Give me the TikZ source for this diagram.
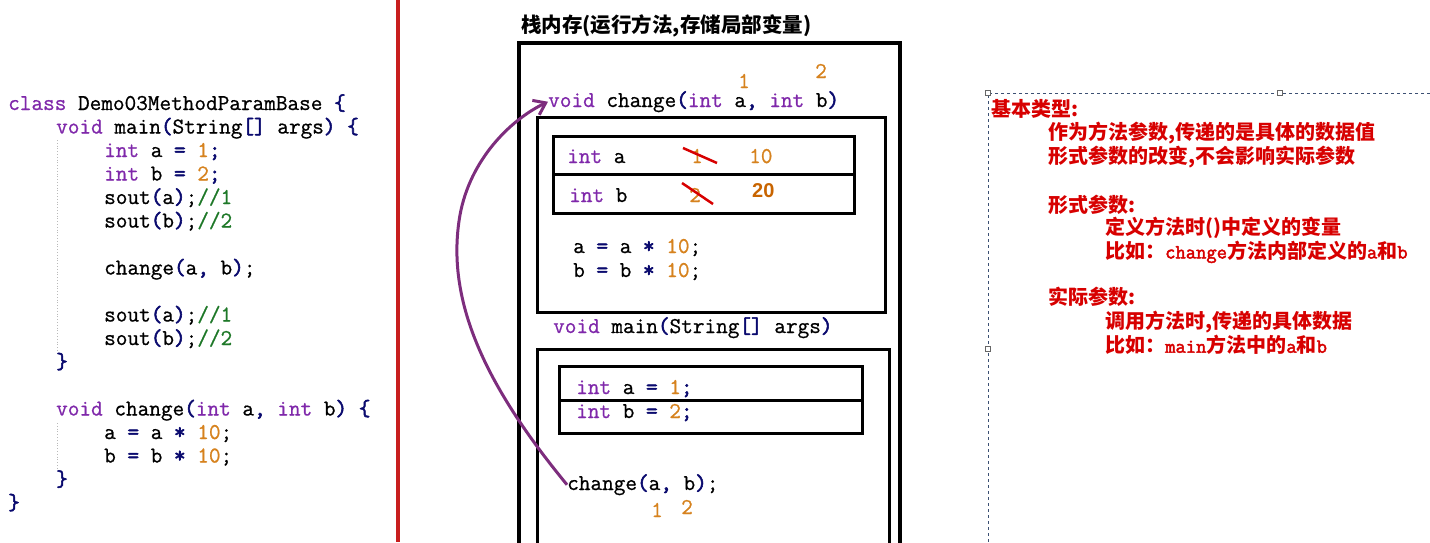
\documentclass[tikz,border=0pt]{standalone}
\usepackage{fontspec}
\usetikzlibrary{arrows.meta}
\newfontfamily\codefont[FakeBold=0.8]{Latin Modern Mono}
\newfontfamily\codebold[FakeBold=2.4]{Latin Modern Mono}
\newfontfamily\cjk{Noto Sans CJK SC}
\newfontfamily\handfont{Liberation Sans}
\definecolor{kwpurple}{RGB}{127,40,170}
\definecolor{numorange}{RGB}{214,130,30}
\definecolor{opnavy}{RGB}{10,10,110}
\definecolor{cmtgreen}{RGB}{30,120,40}
\definecolor{notered}{RGB}{215,0,0}
\definecolor{sepred}{RGB}{200,30,30}
\definecolor{callpurple}{RGB}{125,45,125}
\definecolor{selblue}{RGB}{60,80,115}
\newcommand\kw[1]{\textcolor{kwpurple}{#1}}
\newcommand\nm[1]{\textcolor{numorange}{#1}}
\newcommand\op[1]{\textcolor{opnavy}{\codebold #1}}
\newcommand\cmt[1]{\textcolor{cmtgreen}{#1}}
\newcommand\cd[1]{{\codebold\fontsize{20}{22}\selectfont #1}}
\tikzset{
  code/.style={anchor=base west, inner sep=0pt, font=\codefont\fontsize{22.6}{24}\selectfont},
  note/.style={anchor=west, inner sep=0pt, text=notered, font=\cjk\bfseries\fontsize{20}{22}\selectfont},
  anno/.style={code, text=numorange},
  box/.style={draw, line width=3.5pt},
  frame/.style={draw, line width=3pt},
  strike/.style={draw=notered, line width=2.5pt},
  guide/.style={draw=gray!55, dotted, line width=0.8pt},
  handle/.style={draw=gray!80!black, fill=white, line width=0.8pt}
}
\begin{document}
\begin{tikzpicture}[x=1pt,y=-1pt]
  \useasboundingbox (0,0) rectangle (1430,542);
  \clip (0,0) rectangle (1430,542);

  % source code
  \node[code] (c1) at (8,110) {\kw{class} Demo03MethodParamBase \op{\{}};
  \node[code] (c2) at (56,133.5) {\kw{void} main\op{(}String\op{[]} args\op{)} \op{\{}};
  \node[code] (c3) at (104,157) {\kw{int} a \op{=} \nm{1}\op{;}};
  \node[code] (c4) at (104,180.5) {\kw{int} b \op{=} \nm{2}\op{;}};
  \node[code] (c5) at (104,204) {sout\op{(}a\op{)};\cmt{//1}};
  \node[code] (c6) at (104,227.5) {sout\op{(}b\op{)};\cmt{//2}};
  \node[code] (c7) at (104,274.5) {change\op{(}a\op{,} b\op{)};};
  \node[code] (c8) at (104,321.5) {sout\op{(}a\op{)};\cmt{//1}};
  \node[code] (c9) at (104,345) {sout\op{(}b\op{)};\cmt{//2}};
  \node[code] (c10) at (56,368.5) {\op{\}}};
  \node[code] (c11) at (56,415.5) {\kw{void} change\op{(}\kw{int} a\op{,} \kw{int} b\op{)} \op{\{}};
  \node[code] (c12) at (104,439) {a \op{=} a \op{*} \nm{10};};
  \node[code] (c13) at (104,462.5) {b \op{=} b \op{*} \nm{10};};
  \node[code] (c14) at (56,486) {\op{\}}};
  \node[code] (c15) at (8,509.5) {\op{\}}};
  \draw[guide] (57,140) -- (57,352);
  \draw[guide] (57,423) -- (57,469);

  \draw[sepred, line width=4pt] (398,0) -- (398,542);

  % stack memory
  \node[anchor=west, inner sep=0pt, font=\cjk\bfseries\fontsize{20.5}{22}\selectfont] (t) at (521,26) {栈内存(运行方法,存储局部变量)};
  \draw[box] (519,43) rectangle (900,560);

  \node[code] (sig) at (548,107) {\kw{void} change\op{(}\kw{int} a\op{,} \kw{int} b\op{)}};
  \node[anno] (p1) at (738,88) {1};
  \node[anno] (p2) at (815,78) {2};
  \draw[frame] (537,117) rectangle (885,312);
  \draw[frame] (553,136) rectangle (854,213);
  \draw[frame] (553,174) -- (854,174);
  \node[code] (va) at (567,163) {\kw{int} a};
  \node[anno] (oa) at (691,163) {1};
  \node[anno] (na) at (749,163) {10};
  \draw[strike] (683,148) -- (717,163);
  \node[code] (vb) at (569,202) {\kw{int} b};
  \node[anno] (ob) at (689,202) {2};
  \node[anchor=base west, inner sep=0pt, text={rgb,255:red,200;green,100;blue,0}, font=\handfont\bfseries\fontsize{20}{22}\selectfont] (nb) at (752,197) {20};
  \draw[strike] (682,183) -- (713,204);
  \node[code] (s1) at (573,253) {a \op{=} a \op{*} \nm{10};};
  \node[code] (s2) at (573,277) {b \op{=} b \op{*} \nm{10};};

  \node[code] (msig) at (553,333) {\kw{void} main\op{(}String\op{[]} args\op{)}};
  \draw[frame] (537,349) rectangle (889,560);
  \draw[frame] (559,366) rectangle (862,433);
  \draw[frame] (559,400) -- (862,400);
  \node[code] (ma) at (576,394) {\kw{int} a \op{=} \nm{1}\op{;}};
  \node[code] (mb) at (576,418) {\kw{int} b \op{=} \nm{2}\op{;}};
  \node[code] (call) at (567,490) {change\op{(}a\op{,} b\op{)};};
  \node[anno] (q1) at (651,517) {1};
  \node[anno] (q2) at (681,514) {2};

  \draw[callpurple, line width=3pt, -{Straight Barb[length=11pt,width=16pt,line width=3pt]}]
    (call.west) .. controls (485,385) and (445,300) .. (460,215)
    .. controls (470,160) and (510,120) .. (sig.west);

  % notes
  \draw[selblue, dashed, line width=0.9pt] (1430,93) -- (988,93) -- (988,542);
  \draw[handle] (985.5,90.5) rectangle ++(5,5);
  \draw[handle] (1277.5,90.5) rectangle ++(5,5);
  \draw[handle] (985.5,346.5) rectangle ++(5,5);
  \node[note] (n1) at (991,109) {基本类型:};
  \node[note] (n2) at (1048,133) {作为方法参数,传递的是具体的数据值};
  \node[note] (n3) at (1048,157) {形式参数的改变,不会影响实际参数};
  \node[note] (n4) at (1048,205) {形式参数:};
  \node[note] (n5) at (1105,228) {定义方法时()中定义的变量};
  \node[note] (n6) at (1105,252) {比如：\cd{change}方法内部定义的\cd{a}和\cd{b}};
  \node[note] (n7) at (1048,297) {实际参数:};
  \node[note] (n8) at (1105,322) {调用方法时,传递的具体数据};
  \node[note] (n9) at (1105,345) {比如：\cd{main}方法中的\cd{a}和\cd{b}};
\end{tikzpicture}
\end{document}
